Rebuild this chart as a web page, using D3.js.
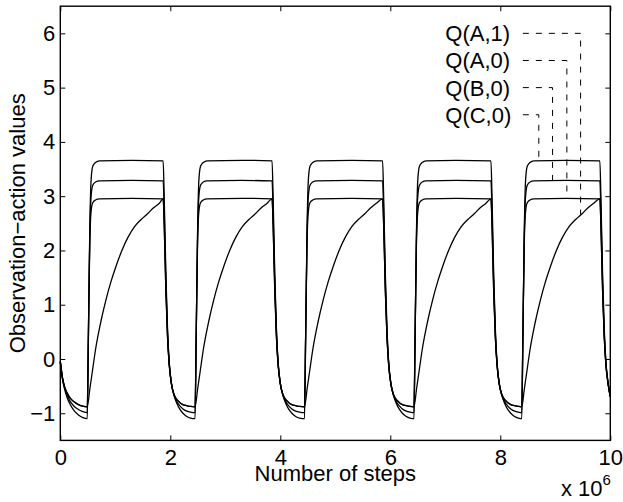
<!DOCTYPE html>
<html><head><meta charset="utf-8">
<script src="https://cdn.jsdelivr.net/npm/d3@7"></script>
<style>
html,body{margin:0;padding:0;background:#fff;}
text{font-family:"Liberation Sans",Arial,Helvetica,sans-serif;fill:#000;}
</style></head>
<body><svg id="c" width="623" height="502"></svg>
<script>
// ---------- data (x in units of 10^6 steps) ----------
const xTicks = [0, 2, 4, 6, 8, 10];
const yTicks = [-1, 0, 1, 2, 3, 4, 5, 6];
const xLabel = "Number of steps";
const yLabel = "Observation\u2212action values";

// Q(C,0): highest plateau (~3.65)
const qC0 = [[0,-0.05],[0.04,-0.37],[0.08,-0.56],[0.12,-0.70],[0.18,-0.84],[0.25,-0.95],[0.33,-1.03],[0.41,-1.08],
 [0.49,-1.1],[0.51,0.3],[0.535,2.3],[0.56,3.3],[0.59,3.55],[0.64,3.62],[0.71,3.65],[1.3,3.66],[1.87,3.65],
 [1.89,2.95],[1.92,1.55],[1.95,0.55],[1.98,-0.05],[2.02,-0.44],[2.07,-0.68],[2.12,-0.82],[2.17,-0.92],[2.23,-1.0],[2.30,-1.06],[2.37,-1.09],
 [2.45,-1.1],[2.47,0.3],[2.495,2.3],[2.52,3.3],[2.55,3.55],[2.60,3.62],[2.67,3.65],[3.3,3.66],[3.85,3.65],
 [3.87,2.95],[3.90,1.55],[3.93,0.55],[3.96,-0.05],[4.00,-0.44],[4.05,-0.68],[4.10,-0.82],[4.15,-0.92],[4.21,-1.0],[4.28,-1.06],[4.35,-1.09],
 [4.44,-1.1],[4.46,0.3],[4.485,2.3],[4.51,3.3],[4.54,3.55],[4.59,3.62],[4.66,3.65],[5.3,3.66],[5.86,3.65],
 [5.88,2.95],[5.91,1.55],[5.94,0.55],[5.97,-0.05],[6.01,-0.44],[6.06,-0.68],[6.11,-0.82],[6.16,-0.92],[6.22,-1.0],[6.29,-1.06],[6.36,-1.09],
 [6.43,-1.1],[6.45,0.3],[6.475,2.3],[6.50,3.3],[6.53,3.55],[6.58,3.62],[6.65,3.65],[7.2,3.66],[7.83,3.65],
 [7.85,2.95],[7.88,1.55],[7.91,0.55],[7.94,-0.05],[7.98,-0.44],[8.03,-0.68],[8.08,-0.82],[8.13,-0.92],[8.19,-1.0],[8.26,-1.06],[8.33,-1.09],
 [8.39,-1.1],[8.41,0.3],[8.435,2.3],[8.46,3.3],[8.49,3.55],[8.54,3.62],[8.61,3.65],[9.2,3.66],[9.81,3.65],
 [9.83,2.95],[9.86,1.55],[9.89,0.55],[9.92,-0.05],[9.96,-0.44],[10.0,-0.70]];

// Q(B,0): middle plateau (~3.28)
const qB0 = [[0,-0.05],[0.04,-0.36],[0.08,-0.54],[0.12,-0.66],[0.18,-0.78],[0.25,-0.87],[0.33,-0.93],[0.41,-0.97],
 [0.49,-0.99],[0.51,0.35],[0.535,2.2],[0.56,3.0],[0.59,3.2],[0.64,3.26],[0.71,3.28],[1.3,3.29],[1.87,3.28],
 [1.89,2.7],[1.92,1.4],[1.95,0.48],[1.98,-0.08],[2.02,-0.45],[2.07,-0.67],[2.12,-0.79],[2.17,-0.86],[2.23,-0.92],[2.30,-0.96],[2.37,-0.98],
 [2.45,-0.99],[2.47,0.35],[2.495,2.2],[2.52,3.0],[2.55,3.2],[2.60,3.26],[2.67,3.28],[3.3,3.29],[3.85,3.28],
 [3.87,2.7],[3.90,1.4],[3.93,0.48],[3.96,-0.08],[4.00,-0.45],[4.05,-0.67],[4.10,-0.79],[4.15,-0.86],[4.21,-0.92],[4.28,-0.96],[4.35,-0.98],
 [4.44,-0.99],[4.46,0.35],[4.485,2.2],[4.51,3.0],[4.54,3.2],[4.59,3.26],[4.66,3.28],[5.3,3.29],[5.86,3.28],
 [5.88,2.7],[5.91,1.4],[5.94,0.48],[5.97,-0.08],[6.01,-0.45],[6.06,-0.67],[6.11,-0.79],[6.16,-0.86],[6.22,-0.92],[6.29,-0.96],[6.36,-0.98],
 [6.43,-0.99],[6.45,0.35],[6.475,2.2],[6.50,3.0],[6.53,3.2],[6.58,3.26],[6.65,3.28],[7.2,3.29],[7.83,3.28],
 [7.85,2.7],[7.88,1.4],[7.91,0.48],[7.94,-0.08],[7.98,-0.45],[8.03,-0.67],[8.08,-0.79],[8.13,-0.86],[8.19,-0.92],[8.26,-0.96],[8.33,-0.98],
 [8.39,-0.99],[8.41,0.35],[8.435,2.2],[8.46,3.0],[8.49,3.2],[8.54,3.26],[8.61,3.28],[9.2,3.29],[9.81,3.28],
 [9.83,2.7],[9.86,1.4],[9.89,0.48],[9.92,-0.08],[9.96,-0.45],[10.0,-0.70]];

// Q(A,0): lower plateau (~2.95), fast rise
const qA0 = [[0,-0.05],[0.04,-0.35],[0.08,-0.52],[0.12,-0.62],[0.18,-0.72],[0.25,-0.79],[0.33,-0.84],[0.41,-0.87],
 [0.49,-0.88],[0.51,0.4],[0.535,2.1],[0.56,2.72],[0.59,2.88],[0.64,2.93],[0.71,2.95],[1.3,2.96],[1.87,2.95],
 [1.89,2.45],[1.92,1.25],[1.95,0.4],[1.98,-0.1],[2.02,-0.46],[2.07,-0.66],[2.12,-0.75],[2.17,-0.8],[2.23,-0.84],[2.30,-0.86],[2.37,-0.875],
 [2.45,-0.88],[2.47,0.4],[2.495,2.1],[2.52,2.72],[2.55,2.88],[2.60,2.93],[2.67,2.95],[3.3,2.96],[3.85,2.95],
 [3.87,2.45],[3.90,1.25],[3.93,0.4],[3.96,-0.1],[4.00,-0.46],[4.05,-0.66],[4.10,-0.75],[4.15,-0.8],[4.21,-0.84],[4.28,-0.86],[4.35,-0.875],
 [4.44,-0.88],[4.46,0.4],[4.485,2.1],[4.51,2.72],[4.54,2.88],[4.59,2.93],[4.66,2.95],[5.3,2.96],[5.86,2.95],
 [5.88,2.45],[5.91,1.25],[5.94,0.4],[5.97,-0.1],[6.01,-0.46],[6.06,-0.66],[6.11,-0.75],[6.16,-0.8],[6.22,-0.84],[6.29,-0.86],[6.36,-0.875],
 [6.43,-0.88],[6.45,0.4],[6.475,2.1],[6.50,2.72],[6.53,2.88],[6.58,2.93],[6.65,2.95],[7.2,2.96],[7.83,2.95],
 [7.85,2.45],[7.88,1.25],[7.91,0.4],[7.94,-0.1],[7.98,-0.46],[8.03,-0.66],[8.08,-0.75],[8.13,-0.8],[8.19,-0.84],[8.26,-0.86],[8.33,-0.875],
 [8.39,-0.88],[8.41,0.4],[8.435,2.1],[8.46,2.72],[8.49,2.88],[8.54,2.93],[8.61,2.95],[9.2,2.96],[9.81,2.95],
 [9.83,2.45],[9.86,1.25],[9.89,0.4],[9.92,-0.1],[9.96,-0.46],[10.0,-0.69]];

// Q(A,1): slow rise to ~2.95
const qA1 = [[0,-0.05],[0.04,-0.35],[0.08,-0.52],[0.12,-0.62],[0.18,-0.72],[0.25,-0.79],[0.33,-0.84],[0.41,-0.87],
 [0.49,-0.88],[0.54,-0.53],[0.59,-0.18],[0.64,0.17],[0.74,0.7],[0.83,1.09],[0.92,1.42],[1.01,1.70],[1.12,2.0],[1.23,2.24],[1.35,2.44],[1.47,2.57],[1.59,2.68],[1.69,2.78],[1.80,2.87],[1.87,2.95],
 [1.89,2.45],[1.92,1.25],[1.95,0.4],[1.98,-0.1],[2.02,-0.46],[2.07,-0.66],[2.12,-0.75],[2.17,-0.8],[2.23,-0.84],[2.30,-0.86],[2.37,-0.875],
 [2.45,-0.88],[2.50,-0.53],[2.55,-0.18],[2.60,0.17],[2.70,0.7],[2.79,1.09],[2.88,1.42],[2.97,1.70],[3.08,2.0],[3.19,2.24],[3.31,2.44],[3.43,2.57],[3.55,2.68],[3.65,2.78],[3.76,2.87],[3.85,2.95],
 [3.87,2.45],[3.90,1.25],[3.93,0.4],[3.96,-0.1],[4.00,-0.46],[4.05,-0.66],[4.10,-0.75],[4.15,-0.8],[4.21,-0.84],[4.28,-0.86],[4.35,-0.875],
 [4.44,-0.88],[4.49,-0.53],[4.54,-0.18],[4.59,0.17],[4.69,0.7],[4.78,1.09],[4.87,1.42],[4.96,1.70],[5.07,2.0],[5.18,2.24],[5.30,2.44],[5.42,2.57],[5.54,2.68],[5.64,2.78],[5.75,2.87],[5.86,2.95],
 [5.88,2.45],[5.91,1.25],[5.94,0.4],[5.97,-0.1],[6.01,-0.46],[6.06,-0.66],[6.11,-0.75],[6.16,-0.8],[6.22,-0.84],[6.29,-0.86],[6.36,-0.875],
 [6.43,-0.88],[6.48,-0.53],[6.53,-0.18],[6.58,0.17],[6.68,0.7],[6.77,1.09],[6.86,1.42],[6.95,1.70],[7.06,2.0],[7.17,2.24],[7.29,2.44],[7.41,2.57],[7.53,2.68],[7.63,2.78],[7.74,2.87],[7.83,2.95],
 [7.85,2.45],[7.88,1.25],[7.91,0.4],[7.94,-0.1],[7.98,-0.46],[8.03,-0.66],[8.08,-0.75],[8.13,-0.8],[8.19,-0.84],[8.26,-0.86],[8.33,-0.875],
 [8.39,-0.88],[8.44,-0.53],[8.49,-0.18],[8.54,0.17],[8.64,0.7],[8.73,1.09],[8.82,1.42],[8.91,1.70],[9.02,2.0],[9.13,2.24],[9.25,2.44],[9.37,2.57],[9.49,2.68],[9.59,2.78],[9.70,2.87],[9.81,2.95],
 [9.83,2.45],[9.86,1.25],[9.89,0.4],[9.92,-0.1],[9.96,-0.46],[10.0,-0.69]];

// annotation labels with dashed pointers
const labels     = ["Q(A,1)", "Q(A,0)", "Q(B,0)", "Q(C,0)"];
const labelY     = [6, 5.5, 5, 4.5];
const labelX     = 7.0;
const leaderX0   = 8.41;
const pointerX   = [9.46, 9.21, 8.95, 8.70];
const pointerEnd = [2.66, 2.95, 3.28, 3.65];

// ---------- drawing ----------
const svg = d3.select("#c");
const L = 60.3, R = 610.3, T = 6.2, B = 440.4;
const x = d3.scaleLinear().domain([0, 10]).range([L, R]);
const y = d3.scaleLinear().domain([-1.5, 6.5]).range([B, T]);
const FS = 22;

const line = d3.line().x(d => x(d[0])).y(d => y(d[1])).curve(d3.curveMonotoneX);
[qC0, qB0, qA0, qA1].forEach(s => {
  svg.append("path").attr("d", line(s)).attr("fill", "none")
    .attr("stroke", "#000").attr("stroke-width", 1.3).attr("stroke-linejoin", "round");
});

// axes
const gB = svg.append("g").attr("transform", `translate(0,${B})`)
  .call(d3.axisBottom(x).tickValues(xTicks).tickSize(-5).tickSizeOuter(0).tickPadding(9).tickFormat(d3.format("d")));
const gT = svg.append("g").attr("transform", `translate(0,${T})`)
  .call(d3.axisTop(x).tickValues(xTicks).tickSize(-5).tickSizeOuter(0).tickFormat(""));
const gL = svg.append("g").attr("transform", `translate(${L},0)`)
  .call(d3.axisLeft(y).tickValues(yTicks).tickSize(-5).tickSizeOuter(0).tickPadding(5).tickFormat(d3.format("d")));
const gR = svg.append("g").attr("transform", `translate(${R},0)`)
  .call(d3.axisRight(y).tickValues(yTicks).tickSize(-5).tickSizeOuter(0).tickFormat(""));
[gB, gT, gL, gR].forEach(g => {
  g.select(".domain").remove();
  g.selectAll(".tick line").attr("stroke", "#000").attr("stroke-width", 1);
  g.selectAll("text").attr("font-size", FS).attr("font-family", '"Liberation Sans",Arial,sans-serif').attr("fill", "#000");
});
svg.append("rect").attr("x", L).attr("y", T).attr("width", R - L).attr("height", B - T)
  .attr("fill", "none").attr("stroke", "#000").attr("stroke-width", 1.4);

// labels
svg.append("text").attr("x", (L + R) / 2).attr("y", 481).attr("text-anchor", "middle")
  .attr("font-size", FS).text(xLabel);
svg.append("text").attr("transform", `translate(25,${(T + B) / 2}) rotate(-90)`)
  .attr("text-anchor", "middle").attr("font-size", FS).text(yLabel);
const mult = svg.append("text").attr("x", 561).attr("y", 496).attr("font-size", FS);
mult.append("tspan").text("x 10");
mult.append("tspan").attr("font-size", 15).attr("dy", -11).text("6");

// annotations
labels.forEach((lab, i) => {
  svg.append("text").attr("x", x(labelX)).attr("y", y(labelY[i])).attr("dy", "0.36em")
    .attr("font-size", FS).text(lab);
  svg.append("path")
    .attr("d", `M${x(leaderX0)},${y(labelY[i])}H${x(pointerX[i])}V${y(pointerEnd[i])}`)
    .attr("fill", "none").attr("stroke", "#000").attr("stroke-width", 1).attr("stroke-dasharray", "6,7");
});
</script></body></html>
